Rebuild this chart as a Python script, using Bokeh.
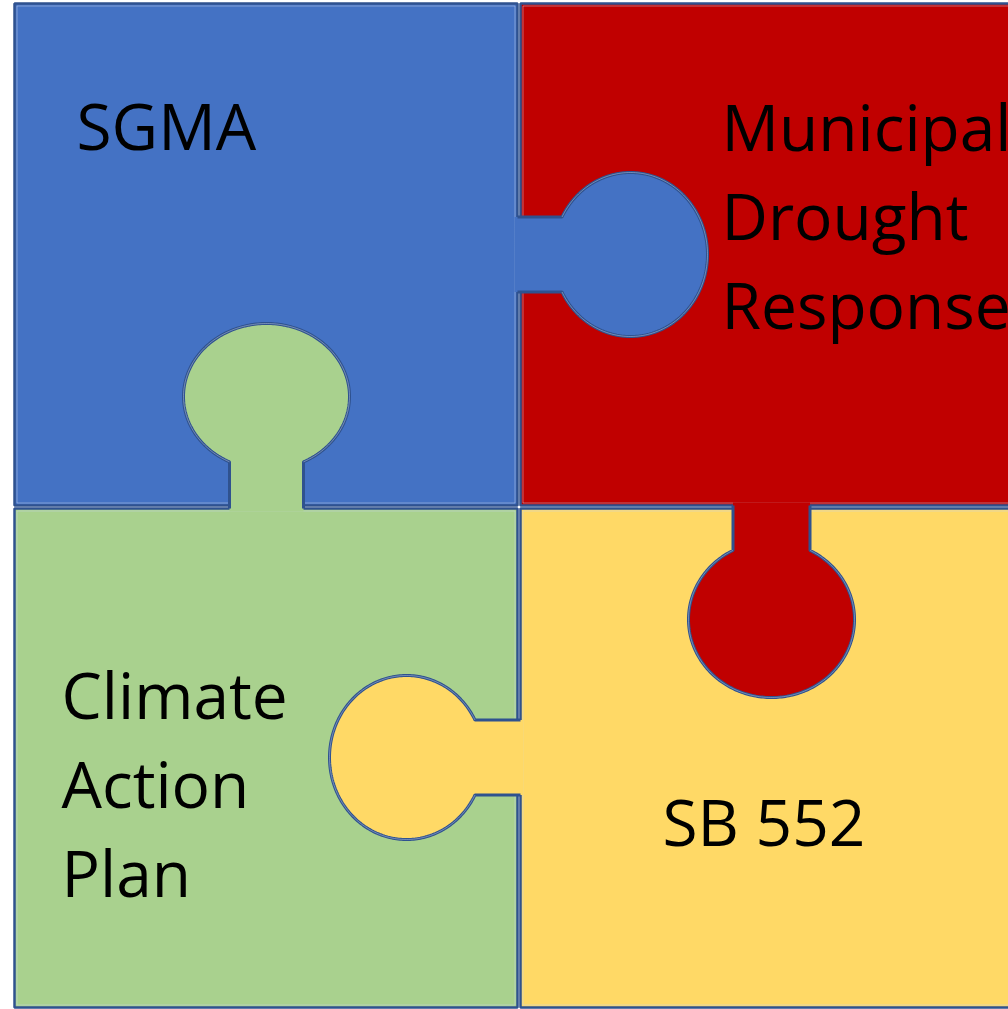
import numpy as np
from bokeh.plotting import figure
from bokeh.embed import file_html
from bokeh.resources import INLINE
from bokeh.core.properties import value

# Pieces: colour, bounds (left, right, top, bottom) in page pixels
piece_names = ["SGMA", "Municipal", "Climate", "SB552"]
piece_colors = ["#4472C4", "#C00000", "#A9D18E", "#FFD966"]
piece_left = [14, 520, 14, 520]
piece_right = [517, 1012, 517, 1012]
piece_top = [3, 3, 508, 508]
piece_bottom = [505, 505, 1007, 1007]

# Tabs: owner colour, direction, seam, centre, radii (along / across), neck half width
tab_colors = ["#4472C4", "#A9D18E", "#FFD966", "#C00000"]
tab_dir = ["+x", "-y", "-x", "+y"]
tab_seam = [517, 508, 520, 505]
tab_cx = [630, 266, 406, 771]
tab_cy = [254, 396, 757, 619]
tab_r_along = [77, 73, 77, 78]
tab_r_across = [82, 83, 82, 83]
tab_neck = [37.5, 37, 37.5, 38.5]

# Labels
label_lines = ["SGMA", "Municipal", "Drought", "Response", "Climate", "Action", "Plan", "SB 552"]
label_x = [76, 721, 721, 721, 61, 61, 61, 662]
label_y = [151, 152, 241, 330, 720, 809, 898, 847]

OUTLINE = "#2F528F"

p = figure(width=1008, height=1009, x_range=(0, 1008), y_range=(1009, 0),
           output_backend="svg", toolbar_location=None, min_border=0)
p.axis.visible = False
p.grid.visible = False
p.outline_line_color = None
p.background_fill_color = "white"
p.border_fill_color = "white"

# pieces
for l, r, t, b, c in zip(piece_left, piece_right, piece_top, piece_bottom, piece_colors):
    p.quad(left=l, right=r, top=t, bottom=b, fill_color=c,
           line_color=OUTLINE, line_width=2.5)
    p.quad(left=l + 2.5, right=r - 2.5, top=t + 2.5, bottom=b - 2.5, fill_color=None,
           line_color="#C9D3E8", line_width=0.8, line_alpha=0.6)

# tabs
for c, d, seam, cx, cy, ra, rc, hw in zip(tab_colors, tab_dir, tab_seam, tab_cx, tab_cy,
                                          tab_r_along, tab_r_across, tab_neck):
    phi0 = np.arcsin(hw / rc)
    phis = np.linspace(phi0, 2 * np.pi - phi0, 240)
    ua = -ra * np.cos(phis)
    va = rc * np.sin(phis)
    centre_u = cx if d in ("+x", "-x") else cy
    seam_u = (seam - centre_u) if d in ("+x", "+y") else -(seam - centre_u)
    uu = np.concatenate([[seam_u - 3, seam_u], ua, [seam_u, seam_u - 3]])
    vv = np.concatenate([[hw, hw], va, [-hw, -hw]])
    if d == "+x":
        xs, ys = cx + uu, cy + vv
    elif d == "-x":
        xs, ys = cx - uu, cy + vv
    elif d == "+y":
        xs, ys = cx + vv, cy + uu
    else:
        xs, ys = cx + vv, cy - uu
    p.patch(list(xs), list(ys), fill_color=c, line_color=None)
    p.line(list(xs[1:-1]), list(ys[1:-1]), line_color=OUTLINE, line_width=3)
    p.line(list(xs[2:-2]), list(ys[2:-2]), line_color="#DCE3F0", line_width=0.8, line_alpha=0.5)

p.text(x=label_x, y=label_y, text=label_lines, text_font=value("Open Sans"),
       text_font_size="64px", text_color="black", text_baseline="alphabetic",
       text_align="left", y_offset=-26)

open("out.html", "w").write(file_html(p, INLINE))
